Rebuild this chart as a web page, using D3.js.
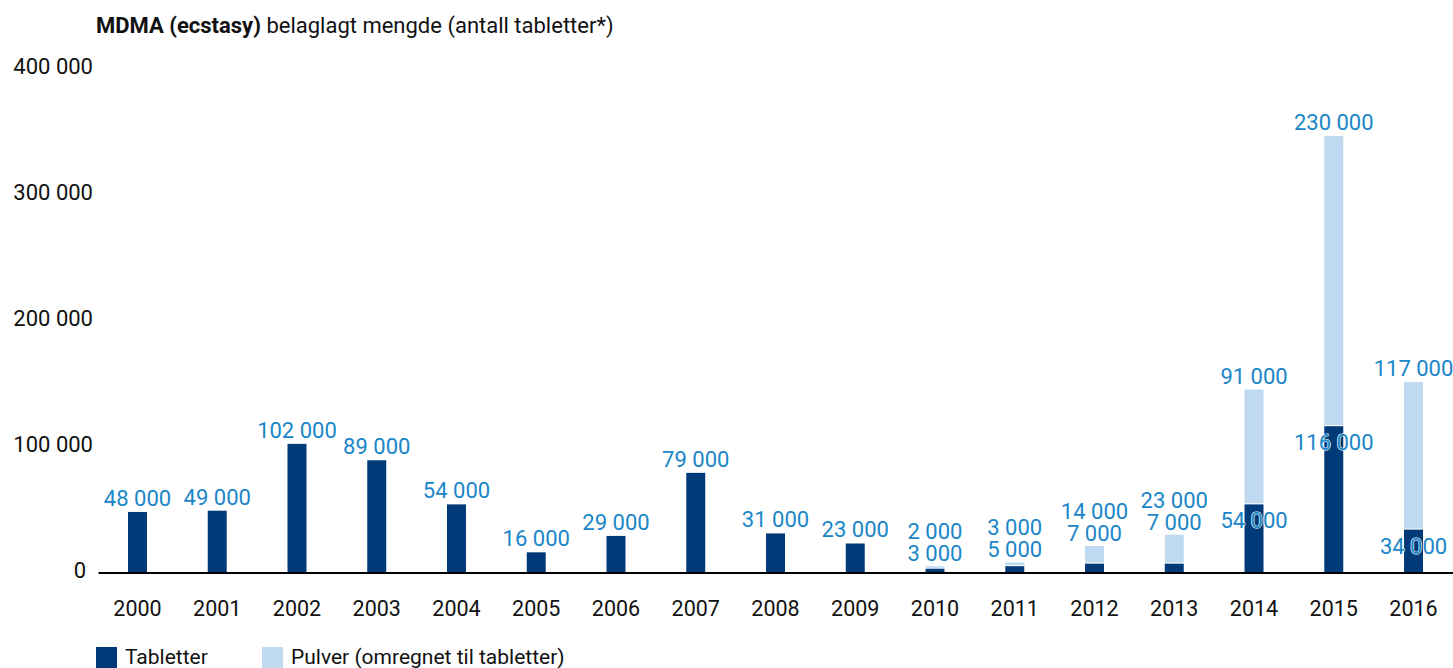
<!DOCTYPE html>
<html>
<head>
<meta charset="utf-8">
<script src="https://cdn.jsdelivr.net/npm/d3@7"></script>
<style>
  body { margin: 0; background: #fff; }
  svg { display: block; font-family: Roboto, "Open Sans", sans-serif; }
  .tick-label { fill: #111; font-size: 22px; }
  .year text { fill: #111; font-size: 21.5px; }
  .value { fill: #1a86c8; font-size: 22px; }
  .value.inside { stroke: #fff; stroke-width: 1.2px; paint-order: stroke; }
  .legend text { fill: #111; font-size: 21px; }
</style>
</head>
<body>
<div id="chart"></div>
<script>
const years = ["2000", "2001", "2002", "2003", "2004", "2005", "2006", "2007", "2008",
               "2009", "2010", "2011", "2012", "2013", "2014", "2015", "2016"];
const tabletter = [48000, 49000, 102000, 89000, 54000, 16000, 29000, 79000, 31000,
                   23000, 3000, 5000, 7000, 7000, 54000, 116000, 34000];
const pulver = [0, 0, 0, 0, 0, 0, 0, 0, 0,
                0, 2000, 3000, 14000, 23000, 91000, 230000, 117000];
const yTicks = [0, 100000, 200000, 300000, 400000];
const seriesNames = ["Tabletter", "Pulver (omregnet til tabletter)"];

const width = 1453;
const height = 668;
const darkBlue = "#003a78";
const lightBlue = "#bfdaf0";

const nb = d3.formatLocale({decimal: ",", thousands: "\u00a0", grouping: [3], currency: ["", " kr"]}).format(",d");

const svg = d3.select("#chart").append("svg")
    .attr("width", width)
    .attr("height", height);

const xScale = d3.scaleBand()
    .domain(years)
    .range([98, 1453])
    .paddingInner(0.762)
    .paddingOuter(0.376);

const yScale = d3.scaleLinear()
    .domain([0, 400000])
    .range([572.5, 68]);

// title
const title = svg.append("text")
    .attr("x", 96)
    .attr("y", 33)
    .attr("fill", "#111")
    .style("font-size", "22px");
title.append("tspan").attr("font-weight", "bold").text("MDMA (ecstasy)");
title.append("tspan").text(" belaglagt mengde (antall tabletter*)");

// y tick labels (no axis line)
svg.append("g")
    .selectAll("text")
    .data(yTicks)
    .enter()
    .append("text")
    .attr("class", "tick-label")
    .attr("x", d => d === 0 ? 86 : 93)
    .attr("y", d => yScale(d) - 2)
    .attr("dy", "0.35em")
    .attr("text-anchor", "end")
    .text(d => nb(d));

const data = years.map((y, i) => ({year: y, tab: tabletter[i], pul: pulver[i]}));

const bars = svg.append("g")
    .selectAll("g")
    .data(data)
    .enter()
    .append("g");

bars.append("rect")
    .attr("x", d => xScale(d.year))
    .attr("y", d => yScale(d.tab))
    .attr("width", xScale.bandwidth())
    .attr("height", d => yScale(0) - yScale(d.tab))
    .attr("fill", darkBlue);

bars.filter(d => d.pul > 0)
    .append("rect")
    .attr("x", d => xScale(d.year))
    .attr("y", d => yScale(d.tab + d.pul))
    .attr("width", xScale.bandwidth())
    .attr("height", d => Math.max(0, yScale(d.tab) - yScale(d.tab + d.pul) - 1))
    .attr("fill", lightBlue);

// x axis
const xAxis = svg.append("g")
    .attr("class", "year")
    .attr("transform", `translate(0, ${yScale(0)})`)
    .call(d3.axisBottom(xScale).tickSize(0).tickPadding(28));
xAxis.select(".domain").attr("stroke", "#000").attr("stroke-width", 2);
xAxis.selectAll("text").style("font-family", "Roboto, sans-serif");

// value labels
const cx = d => xScale(d.year) + xScale.bandwidth() / 2;
const lineGap = 22;

bars.each(function (d) {
    const g = d3.select(this);
    const top = yScale(d.tab + d.pul);
    if (d.pul === 0) {
        g.append("text").attr("class", "value")
            .attr("x", cx(d)).attr("y", top - 6)
            .attr("text-anchor", "middle").text(nb(d.tab));
    } else if (yScale(0) - yScale(d.tab) < 30) {
        g.append("text").attr("class", "value")
            .attr("x", cx(d)).attr("y", top - 5)
            .attr("text-anchor", "middle").text(nb(d.tab));
        g.append("text").attr("class", "value")
            .attr("x", cx(d)).attr("y", top - 5 - lineGap)
            .attr("text-anchor", "middle").text(nb(d.pul));
    } else {
        g.append("text").attr("class", "value")
            .attr("x", cx(d)).attr("y", top - 6)
            .attr("text-anchor", "middle").text(nb(d.pul));
        g.append("text").attr("class", "value inside")
            .attr("x", cx(d)).attr("y", yScale(d.tab) + 24)
            .attr("text-anchor", "middle").text(nb(d.tab));
    }
});

// legend
const legend = svg.append("g").attr("class", "legend");
const legendX = [96, 262];
[darkBlue, lightBlue].forEach((c, i) => {
    legend.append("rect")
        .attr("x", legendX[i]).attr("y", 647)
        .attr("width", 21).attr("height", 21)
        .attr("fill", c);
    legend.append("text")
        .attr("x", legendX[i] + 29).attr("y", 664)
        .text(seriesNames[i]);
});
</script>
</body>
</html>
